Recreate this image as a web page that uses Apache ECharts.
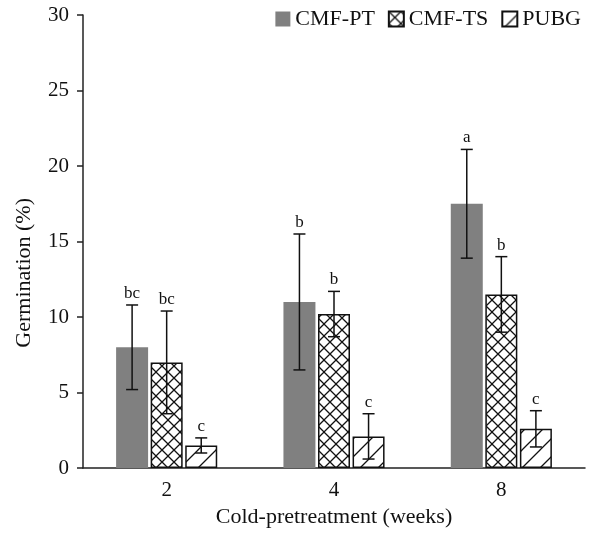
<!DOCTYPE html>
<html><head><meta charset="utf-8">
<script src="https://cdn.jsdelivr.net/npm/echarts@6/dist/echarts.min.js"></script>
<style>html,body{margin:0;padding:0;background:#fff}#c{width:591px;height:533px}</style>
</head><body><div id="c"></div>
<script>
const categories = ['2', '4', '8'];
const seriesNames = ['CMF-PT', 'CMF-TS', 'PUBG'];
const ptMean = [8.0, 11.0, 17.5];
const ptErr = [2.8, 4.5, 3.6];
const tsMean = [7.0, 10.2, 11.5];
const tsErr = [3.4, 1.5, 2.5];
const pubgMean = [1.5, 2.1, 2.6];
const pubgErr = [0.5, 1.5, 1.2];
const ptLetters = ['bc', 'b', 'a'];
const tsLetters = ['bc', 'b', 'b'];
const pubgLetters = ['c', 'c', 'c'];
const yTicks = [0, 5, 10, 15, 20, 25, 30];
const xTitle = 'Cold-pretreatment (weeks)';
const yTitle = 'Germination (%)';

const FONT = "'Liberation Serif', 'Times New Roman', serif";
const BAR_W = 32, GAP = 0.08;

function makePattern(type) {
  const s = type === 'cross' ? 12 : 18;
  const c = document.createElement('canvas');
  c.width = s; c.height = s;
  const g = c.getContext('2d');
  g.fillStyle = '#fff'; g.fillRect(0, 0, s, s);
  g.strokeStyle = '#111'; g.lineWidth = 1.3;
  g.beginPath();
  if (type === 'cross') {
    g.moveTo(-1, -1); g.lineTo(s + 1, s + 1);
    g.moveTo(-1, s + 1); g.lineTo(s + 1, -1);
  } else {
    g.moveTo(-1, s + 1); g.lineTo(s + 1, -1);
    g.moveTo(-2, 2); g.lineTo(2, -2);
    g.moveTo(s - 2, s + 2); g.lineTo(s + 2, s - 2);
  }
  g.stroke();
  return { image: c, repeat: 'repeat' };
}

const means = [ptMean, tsMean, pubgMean];
const errs = [ptErr, tsErr, pubgErr];
const letters = [ptLetters, tsLetters, pubgLetters];
const styles = [
  { color: '#808080' },
  { color: makePattern('cross'), borderColor: '#111', borderWidth: 1.5 },
  { color: makePattern('diag'), borderColor: '#111', borderWidth: 1.5 }
];

const barSeries = means.map((m, i) => ({
  name: seriesNames[i], type: 'bar', data: m, barWidth: BAR_W, barGap: (GAP * 100) + '%',
  itemStyle: styles[i], z: 2
}));

const errSeries = means.map((m, si) => ({
  type: 'custom', name: seriesNames[si] + '-err', z: 5, silent: true,
  data: m.map((v, i) => [i, v, errs[si][i]]),
  renderItem: function (params, api) {
    const idx = api.value(0);
    const mean = api.value(1), e = api.value(2);
    const off = (BAR_W * (1 + GAP)) * (si - 1);
    const top = api.coord([idx, mean + e]);
    const bot = api.coord([idx, mean - e]);
    const x = top[0] + off;
    const cap = 6;
    const st = { stroke: '#111', lineWidth: 1.5 };
    return {
      type: 'group', children: [
        { type: 'line', shape: { x1: x, y1: top[1], x2: x, y2: bot[1] }, style: st },
        { type: 'line', shape: { x1: x - cap, y1: top[1], x2: x + cap, y2: top[1] }, style: st },
        { type: 'line', shape: { x1: x - cap, y1: bot[1], x2: x + cap, y2: bot[1] }, style: st },
        { type: 'text', x: x, y: top[1] - 3, style: { text: letters[si][params.dataIndex], fill: '#111', font: '17px ' + FONT, textAlign: 'center', textVerticalAlign: 'bottom' } }
      ]
    };
  }
}));

const chart = echarts.init(document.getElementById('c'), null, { renderer: 'canvas' });
chart.setOption({
  animation: false,
  backgroundColor: '#fff',
  textStyle: { fontFamily: FONT },
  legend: {
    data: seriesNames, right: 5, top: 3, itemWidth: 15, itemHeight: 15, itemGap: 13, icon: 'rect',
    textStyle: { fontFamily: FONT, fontSize: 22, color: '#111' }
  },
  graphic: [{
    type: 'text', left: 13, top: 198, 
    style: { text: yTitle, font: '22px ' + FONT, fill: '#111' },
    rotation: Math.PI / 2, originX: 0, originY: 0
  }],
  grid: { left: 83, right: 6, top: 15, bottom: 64 },
  xAxis: {
    type: 'category', data: categories,
    name: xTitle, nameLocation: 'middle', nameGap: 29,
    nameTextStyle: { fontFamily: FONT, fontSize: 22, color: '#111' },
    axisLine: { lineStyle: { color: '#222', width: 1.5 } },
    axisTick: { alignWithLabel: true, length: 5, lineStyle: { color: '#222', width: 1.5 } },
    axisLabel: { fontFamily: FONT, fontSize: 21, color: '#111', margin: 12 }
  },
  yAxis: {
    type: 'value', min: yTicks[0], max: yTicks[yTicks.length - 1], interval: 5,
    axisLine: { show: true, lineStyle: { color: '#222', width: 1.5 } },
    axisTick: { show: true, length: 6, lineStyle: { color: '#222', width: 1.5 } },
    axisLabel: { fontFamily: FONT, fontSize: 21, color: '#111', margin: 14 },
    splitLine: { show: false }
  },
  series: barSeries.concat(errSeries)
});
</script></body></html>
